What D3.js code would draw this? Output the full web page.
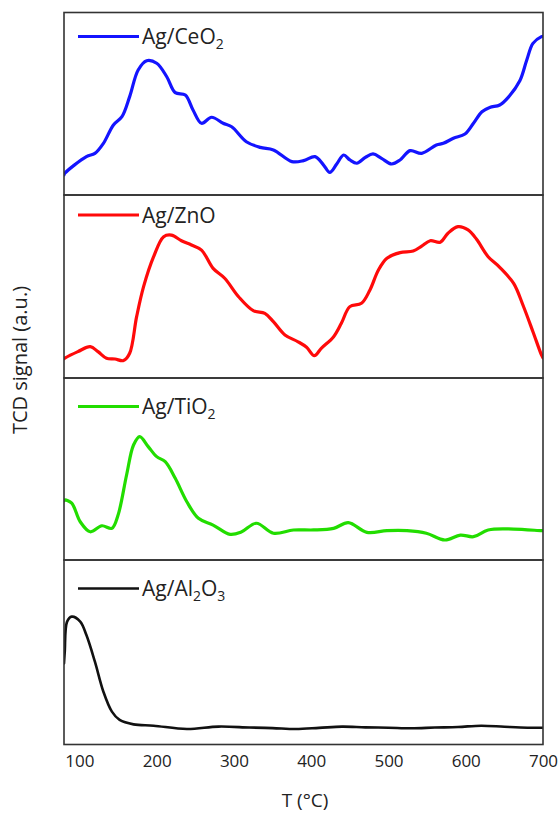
<!DOCTYPE html>
<html><head><meta charset="utf-8">
<script src="https://cdn.jsdelivr.net/npm/d3@7"></script>
<style>body{margin:0;background:#fff}svg{display:block}text{font-family:"Open Sans",sans-serif;fill:#222}</style>
</head><body>
<script>
// ---- data (T in °C, signal in a.u.) ----
const sampleNames = ["Ag/CeO2", "Ag/ZnO", "Ag/TiO2", "Ag/Al2O3"];
const xTicks = [100, 200, 300, 400, 500, 600, 700];

const ceT = [80,81,109,120,131,144,155,165,176,187,200,213,224,237,247,258,271,286,297,316,334,351,375,390,405,416,424,433,442,450,459,470,480,491,504,515,528,543,562,571,584,599,610,621,631,644,655,670,679,687,698,700];
const ceV = [11,11.9,21,22.8,28.3,38.4,42.9,53.9,68.5,73.6,72.2,64.8,56.1,54.8,46.6,39.3,42.6,39.3,37.4,29.2,26.1,24.7,18.3,18.8,21,16.4,12.4,17,21.9,19.2,17.4,20.6,22.5,20.1,17,19.2,24.3,22.8,27.4,28.3,31.1,33.4,39.3,45.6,48,49.3,53.5,62.6,74,83.1,86.8,87];

const znT = [80,81,98,114,124,135,146,157,165,174,183,196,209,219,232,245,258,273,288,306,325,340,351,366,383,394,404,413,429,439,450,465,476,487,498,515,532,543,554,567,577,590,603,614,629,644,662,674,687,698,700];
const znV = [10.5,10.8,14.4,17.1,14.4,10.8,10.4,9.5,13.5,33.5,49.9,66.3,77.2,78.1,75,72.7,69.9,59.9,54.5,44.4,36.8,35.3,30.8,23.5,19.8,16.8,12.2,16.2,22.6,29.9,39,40.8,48.1,59,65.4,68.5,69.4,72.1,75,74.2,79.1,82.7,80.9,75.8,66.3,60.5,51.7,39.9,25.3,12.6,11];

const tiT = [80,81,90,101,114,129,142,150,161,170,178,189,200,211,224,239,254,273,295,310,329,351,377,403,429,448,472,498,524,549,573,593,610,629,662,698,700];
const tiV = [32.5,33,31.2,21,15.5,18.8,17.4,24.7,46.7,63.2,67.8,62.3,56.8,54,44.9,32,22.9,19.2,14.1,15.5,20.2,14.7,16.5,16.5,17.4,20.5,15.2,16.1,16.1,14.7,11,13.7,12.8,16.5,17,16.1,16.1];

const alT = [80,81,84,90,101,109,120,131,142,152,170,196,239,280,320,350,380,410,440,470,500,530,560,590,620,650,680,700];
const alV = [44,50.3,66.6,69.3,66.6,59.3,44.9,28.6,17.8,13.3,10.9,10.2,8.4,9.7,9.2,8.9,8.4,9.0,9.7,9.3,9.1,8.8,9.2,9.5,10.2,9.6,9.1,9.1];

const seriesT = [ceT, znT, tiT, alT];
const seriesV = [ceV, znV, tiV, alV];

// ---- style / layout ----
const colors = ["#1414ff", "#ff0a0a", "#22dd00", "#111111"];
const widths = [3.2, 3.2, 3.2, 2.6];
const W = 559, H = 814;
const left = 64, right = 543;
const panelEdges = [12.5, 195, 378, 560, 744.5];
const legendDy = [24, 20, 28.5, 28.5];

const svg = d3.select("body").append("svg").attr("width", W).attr("height", H);
const x = d3.scaleLinear().domain([80, 700]).range([left, right]);

const subLabel = (g, name) => {
  const parts = name.split(/(\d+)/).filter(s => s.length);
  let prevSub = false;
  parts.forEach(p => {
    const isNum = /^\d+$/.test(p);
    g.append("tspan").text(p)
      .attr("font-size", isNum ? 14 : 21)
      .attr("dy", isNum ? 5 : (prevSub ? -5 : 0));
    prevSub = isNum;
  });
};

seriesT.forEach((T, i) => {
  const top = panelEdges[i], bot = panelEdges[i + 1];
  const y = d3.scaleLinear().domain([0, 100]).range([bot, top]);
  const g = svg.append("g");
  const cid = "clip" + i;
  svg.append("clipPath").attr("id", cid).append("rect")
    .attr("x", left).attr("y", top).attr("width", right - left).attr("height", bot - top);
  const data = T.map((t, j) => [t, seriesV[i][j]]);
  const line = d3.line().x(d => x(d[0])).y(d => y(d[1])).curve(d3.curveCatmullRom.alpha(0.5));
  g.append("path").datum(data).attr("d", line)
    .attr("fill", "none").attr("stroke", colors[i]).attr("stroke-width", widths[i])
    .attr("stroke-linejoin", "round").attr("stroke-linecap", "round")
    .attr("clip-path", `url(#${cid})`);
  const ly = top + legendDy[i];
  g.append("line").attr("x1", 78).attr("x2", 139).attr("y1", ly).attr("y2", ly)
    .attr("stroke", colors[i]).attr("stroke-width", widths[i]);
  const t = g.append("text").attr("x", 142).attr("y", ly + 7.5);
  subLabel(t, sampleNames[i]);
  g.append("rect").attr("x", left).attr("y", top).attr("width", right - left).attr("height", bot - top)
    .attr("fill", "none").attr("stroke", "#333").attr("stroke-width", 1.6);
});

const xAxis = d3.axisBottom(x).tickValues(xTicks).tickSize(0).tickPadding(10);
const ax = svg.append("g").attr("transform", `translate(0,${panelEdges[4]})`).call(xAxis);
ax.select(".domain").remove();
ax.selectAll("text").attr("font-size", 17).attr("font-family", "Open Sans").attr("fill", "#222");

svg.append("text").attr("x", 305).attr("y", 807).attr("text-anchor", "middle")
  .attr("font-size", 19).text("T (°C)");
svg.append("text").attr("transform", `translate(27,360) rotate(-90)`)
  .attr("text-anchor", "middle").attr("font-size", 20).text("TCD signal (a.u.)");
</script>
</body></html>
